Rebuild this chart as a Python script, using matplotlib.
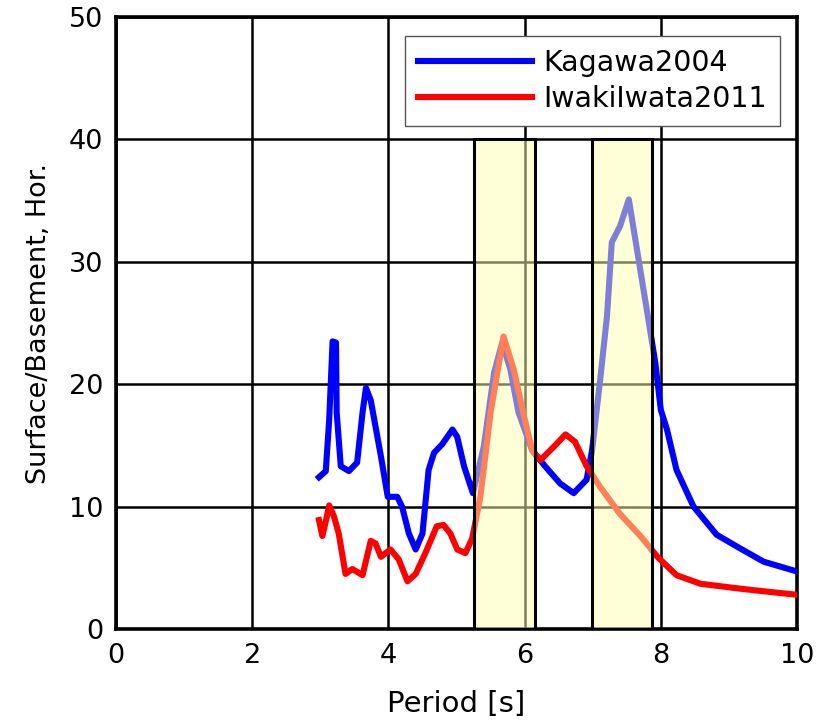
import matplotlib
matplotlib.use("Agg")
import matplotlib.pyplot as plt
from matplotlib.patches import Rectangle

kagawa_x = [2.98, 3.08, 3.13, 3.18, 3.23, 3.24, 3.30, 3.42, 3.54, 3.62, 3.67, 3.74, 3.89, 3.99,
            4.13, 4.20, 4.30, 4.40, 4.50, 4.59, 4.67, 4.79, 4.94, 5.01, 5.11, 5.24, 5.40, 5.55,
            5.67, 5.79, 5.91, 6.11, 6.30, 6.52, 6.72, 6.91, 6.99, 7.11, 7.21, 7.28, 7.40, 7.53,
            7.60, 7.72, 7.84, 7.92, 8.00, 8.09, 8.23, 8.48, 8.82, 9.16, 9.51, 10.0]
kagawa_y = [12.4, 12.9, 17.1, 23.5, 23.4, 17.7, 13.3, 12.9, 13.6, 17.7, 19.7, 18.7, 14.1, 10.8,
            10.8, 10.0, 7.8, 6.5, 7.8, 13.0, 14.4, 15.1, 16.3, 15.7, 13.3, 11.1, 14.9, 20.9,
            23.4, 21.2, 17.7, 14.6, 13.3, 11.9, 11.1, 12.2, 14.6, 20.4, 25.6, 31.6, 32.9, 35.1,
            32.7, 28.6, 24.5, 21.7, 17.9, 16.3, 13.0, 10.0, 7.7, 6.6, 5.5, 4.7]

iwaki_x = [2.98, 3.03, 3.08, 3.13, 3.20, 3.27, 3.37, 3.47, 3.62, 3.74, 3.81, 3.89, 4.03, 4.15,
           4.28, 4.40, 4.55, 4.71, 4.81, 4.91, 5.01, 5.13, 5.23, 5.35, 5.50, 5.69, 5.84, 5.99,
           6.11, 6.23, 6.43, 6.60, 6.74, 6.91, 7.11, 7.40, 7.70, 7.95, 8.23, 8.58, 9.16, 9.65, 10.0]
iwaki_y = [8.9, 7.6, 8.8, 10.1, 9.2, 7.8, 4.5, 4.9, 4.4, 7.2, 7.0, 5.9, 6.5, 5.7,
           3.9, 4.5, 6.3, 8.4, 8.5, 7.8, 6.5, 6.2, 7.4, 10.8, 17.7, 23.9, 21.2, 17.4,
           14.6, 13.8, 14.9, 15.9, 15.3, 13.3, 11.6, 9.4, 7.6, 5.9, 4.4, 3.7, 3.3, 3.0, 2.8]

bands = [(5.26, 6.15), (6.99, 7.87)]
band_top = 40

plt.rcParams['font.family'] = ['DejaVu Sans']
fig = plt.figure(figsize=(8.2, 7.24), dpi=100)
ax = fig.add_axes([0.1415, 0.1312, 0.972 - 0.1415, 0.9765 - 0.1312])

ax.plot(kagawa_x, kagawa_y, color='#0000ff', lw=4.4, label='Kagawa2004', zorder=3)
ax.plot(iwaki_x, iwaki_y, color='#ff0000', lw=4.4, label='IwakiIwata2011', zorder=3)

for x0, x1 in bands:
    ax.add_patch(Rectangle((x0, 0), x1 - x0, band_top, facecolor='#ffffb0', alpha=0.5,
                           edgecolor='none', zorder=4))
    ax.add_patch(Rectangle((x0, 0), x1 - x0, band_top, facecolor='none',
                           edgecolor='black', lw=2.2, zorder=5))

ax.set_xlim(0, 10)
ax.set_ylim(0, 50)
ax.set_xticks([0, 2, 4, 6, 8, 10])
ax.set_yticks([0, 10, 20, 30, 40, 50])
ax.grid(True, color='black', lw=1.8, zorder=1)
ax.set_axisbelow(True)
for s in ax.spines.values():
    s.set_linewidth(2.6)
ax.tick_params(length=0, labelsize=19.5)
ax.tick_params(axis='x', pad=10)
ax.tick_params(axis='y', pad=9)
ax.set_xlabel('Period [s]', fontsize=21, labelpad=15)
ax.set_ylabel('Surface/Basement, Hor.', fontsize=19.5, labelpad=12)

leg = ax.legend(loc='upper right', bbox_to_anchor=(0.975, 0.969), borderaxespad=0,
                fontsize=20.5, frameon=True, fancybox=False, edgecolor='#555555',
                framealpha=1, handlelength=4.0, handletextpad=0.42, borderpad=0.45,
                labelspacing=0.3)
leg.get_frame().set_linewidth(1.0)
leg.set_zorder(10)

fig.savefig('out.png', dpi=100)
